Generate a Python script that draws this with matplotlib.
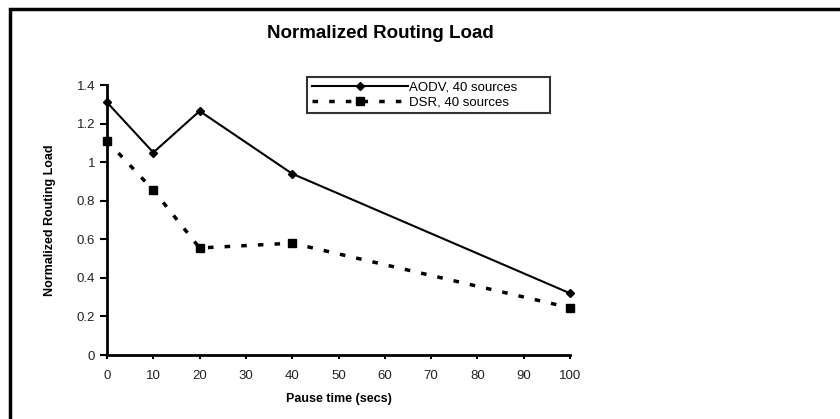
import matplotlib
matplotlib.use("Agg")
import matplotlib.pyplot as plt
from matplotlib.patches import Rectangle

plt.rcParams['font.family'] = ['Liberation Sans', 'DejaVu Sans']

# Datos
pause_time = [0, 10, 20, 40, 100]
aodv_40 = [1.31, 1.05, 1.265, 0.94, 0.32]
dsr_40 = [1.11, 0.855, 0.555, 0.58, 0.245]
y_ticks = [0, 0.2, 0.4, 0.6, 0.8, 1, 1.2, 1.4]
x_ticks = list(range(0, 101, 10))

fig = plt.figure(figsize=(8.4, 4.19), dpi=100)
ax = fig.add_axes([0.1274, 0.1527, 0.5512, 0.6444])

ax.plot(pause_time, aodv_40, color='black', linewidth=1.5, marker='D',
        markersize=4, label='AODV, 40 sources')
ax.plot(pause_time, dsr_40, color='black', linewidth=2.5, linestyle=(0, (1.6, 3.2)),
        marker='s', markersize=6, label='DSR, 40 sources')

ax.set_xlim(0, 100)
ax.set_ylim(0, 1.4)
ax.set_xticks(x_ticks)
ax.set_yticks(y_ticks)
ax.set_yticklabels(['0', '0.2', '0.4', '0.6', '0.8', '1', '1.2', '1.4'])
ax.tick_params(axis='both', labelsize=9.5, width=1.5, length=5, color='black',
               labelcolor='#222222')
ax.tick_params(axis='x', direction='out', length=3, pad=8)
ax.spines['top'].set_visible(False)
ax.spines['right'].set_visible(False)
ax.spines['left'].set_linewidth(2)
ax.spines['bottom'].set_linewidth(2)
ax.set_xlabel('Pause time (secs)', fontsize=9, fontweight='bold', labelpad=8)
ax.set_ylabel('Normalized Routing Load', fontsize=9, fontweight='bold', labelpad=15)
for ln in ax.lines:
    ln.set_clip_on(False)

fig.text(380 / 840, 1 - 33 / 419, 'Normalized Routing Load', ha='center', va='center',
         fontsize=13.5, fontweight='bold')

leg = ax.legend(loc='upper left', bbox_to_anchor=(307 / 840, 1 - 77 / 419, 243 / 840, 0),
                bbox_transform=fig.transFigure, mode='expand', frameon=True,
                fancybox=False, fontsize=9.5, handlelength=7.3, handletextpad=0.1,
                borderpad=0.35, labelspacing=0.2, borderaxespad=0)
leg.get_frame().set_edgecolor('black')
leg.get_frame().set_linewidth(1.5)

# marco exterior de la figura
fig.patches.append(Rectangle((10 / 840, -0.1), 1.2, 1 - 9 / 419 + 0.1,
                             transform=fig.transFigure, fill=False,
                             edgecolor='black', linewidth=2.5))

fig.savefig('out.png', dpi=100)
